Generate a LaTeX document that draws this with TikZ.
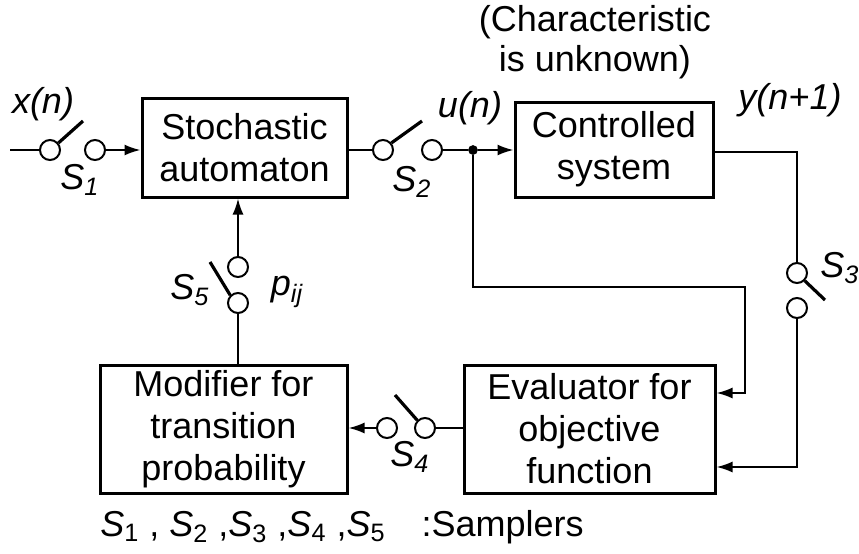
\documentclass[tikz,border=0pt]{standalone}
\usepackage{fontspec}
\setmainfont{Liberation Sans}
\usetikzlibrary{arrows.meta, positioning, calc}

\tikzset{
  blk/.style={draw, line width=1.5pt, align=center, inner sep=0pt, font=\fontsize{18}{21}\selectfont},
  sw/.style={draw, circle, line width=1pt, minimum size=10pt, inner sep=0pt},
  wire/.style={line width=1pt},
  sig/.style={line width=1pt, -{Latex[length=8pt,width=5.5pt]}},
  lever/.style={line width=1.6pt},
  lbl/.style={font=\fontsize{18}{21}\selectfont\itshape, inner sep=0pt},
}

\begin{document}
\begin{tikzpicture}[x=0.5pt, y=-0.5pt]
            \useasboundingbox (0,0) rectangle (859,553);

            % Blocks
            \node[blk, minimum width=102.5pt, minimum height=49.5pt] (auto) at (244.5,147.5) {Stochastic\\automaton};
            \node[blk, minimum width=99pt, minimum height=47.5pt] (ctrl) at (614,149.5) {Controlled\\system};
            \node[blk, minimum width=125.5pt, minimum height=64pt] (eval) at (589.5,429) {Evaluator for\\objective\\function};
            \node[blk, minimum width=123.5pt, minimum height=64pt] (modi) at (223.5,429) {Modifier for\\transition\\probability};

            % Samplers
            \node[sw] (s1a) at (50,150) {};
            \node[sw] (s1b) at (95,150) {};
            \node[sw] (s2a) at (383,150) {};
            \node[sw] (s2b) at (432,150) {};
            \node[sw] (s3a) at (797,273) {};
            \node[sw] (s3b) at (797,308) {};
            \node[sw] (s4a) at (425,428) {};
            \node[sw] (s4b) at (387,428) {};
            \node[sw] (s5a) at (238,303) {};
            \node[sw] (s5b) at (238,267) {};
            \node[draw, circle, fill, line width=0.8pt, minimum size=4pt, inner sep=0pt] (jn) at (473,150) {};

            \coordinate (xin) at (10,150);
            \coordinate (lev1) at (83,121);
            \coordinate (lev2) at (422,121);
            \coordinate (lev3) at (825,300);
            \coordinate (lev4) at (395,395);
            \coordinate (lev5) at (210,262);
            \coordinate (fb1) at (745,287);

            % Levers
            \draw[lever] (s1a.40) -- (lev1);
            \draw[lever] (s2a.40) -- (lev2);
            \draw[lever] (s3a.-45) -- (lev3);
            \draw[lever] (s4a.135) -- (lev4);
            \draw[lever] (s5a.135) -- (lev5);

            % Connections
            \draw[wire] (xin) -- (s1a);
            \draw[sig] (s1b) -- (s1b -| auto.west);
            \draw[wire] (auto.east |- s2a) -- (s2a);
            \draw[wire] (s2b) -- (jn);
            \draw[sig] (jn) -- (jn -| ctrl.west);
            \draw[sig] (jn) |- (fb1) |- ($(eval.east)+(0,-36)$);
            \draw[wire] (ctrl.east |- 0,152) -| (s3a);
            \draw[sig] (s3b) |- ($(eval.east)+(0,38)$);
            \draw[wire] (eval.west |- s4a) -- (s4a);
            \draw[sig] (s4b) -- (s4b -| modi.east);
            \draw[wire] (s5a |- modi.north) -- (s5a);
            \draw[sig] (s5b) -- (s5b |- auto.south);

            % Labels
            \node[lbl] (xn) at (43,104) {x(n)};
            \node[lbl] (un) at (470,108) {u(n)};
            \node[lbl] (yn) at (790,100) {y(n+1)};
            \node[lbl] (l1) at (80,180) {S\textsubscript{1}};
            \node[lbl] (l2) at (412,182) {S\textsubscript{2}};
            \node[lbl] (l3) at (840,268) {S\textsubscript{3}};
            \node[lbl] (l4) at (410,457) {S\textsubscript{4}};
            \node[lbl] (l5) at (190,290) {S\textsubscript{5}};
            \node[lbl] (pij) at (287,292) {p\textsubscript{ij}};
            \node[align=center, inner sep=0pt, font=\fontsize{18}{20}\selectfont] (note) at (595,42) {(Characteristic\\is unknown)};
            \node[anchor=west, inner sep=0pt, font=\fontsize{18}{21}\selectfont] (foot) at (100,527)
              {\textit{S}\textsubscript{1} , \textit{S}\textsubscript{2} ,\textit{S}\textsubscript{3} ,\textit{S}\textsubscript{4} ,\textit{S}\textsubscript{5}\quad :Samplers};
        \end{tikzpicture}
\end{document}
